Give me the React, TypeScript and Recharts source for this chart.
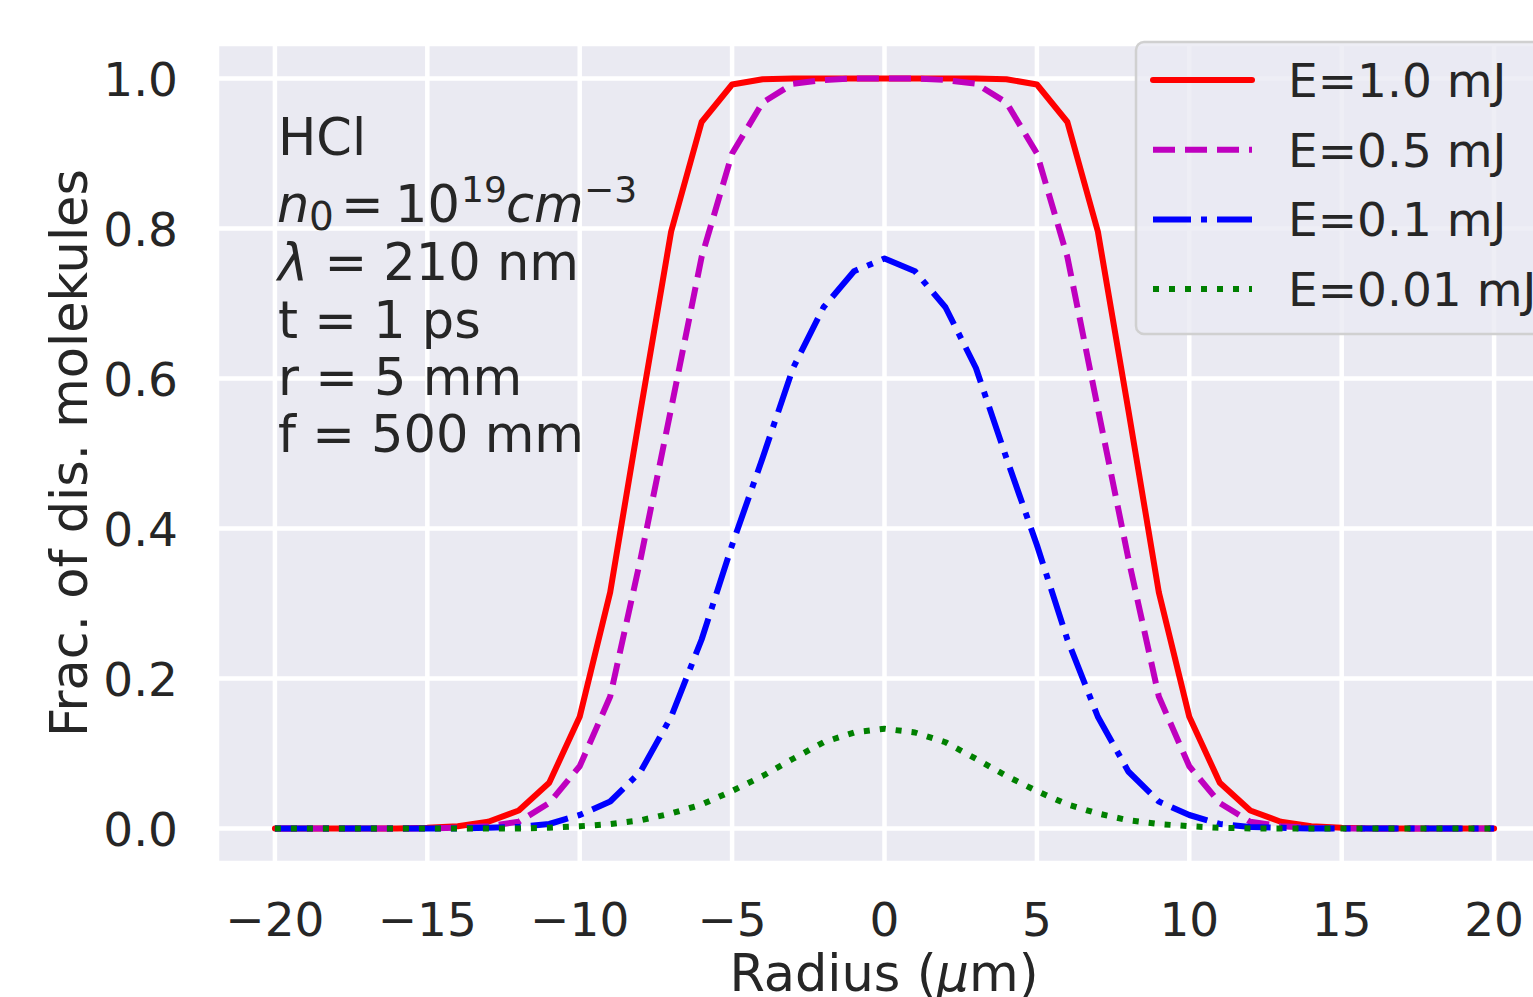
import { CartesianGrid, Line, LineChart, XAxis, YAxis } from "recharts";

// Radius in micrometres, one point per integer step
const RADIUS = [
  -20, -19, -18, -17, -16, -15, -14, -13, -12, -11, -10, -9, -8, -7, -6, -5, -4, -3, -2, -1, 0,
  1, 2, 3, 4, 5, 6, 7, 8, 9, 10, 11, 12, 13, 14, 15, 16, 17, 18, 19, 20,
];

const E_1_0 = [
  0, 0, 0, 0, 0, 0.001, 0.003, 0.009, 0.024, 0.061, 0.149, 0.315, 0.558, 0.796, 0.942, 0.992,
  0.999, 1.0, 1.0, 1.0, 1.0, 1.0, 1.0, 1.0, 0.999, 0.992, 0.942, 0.796, 0.558, 0.315, 0.149,
  0.061, 0.024, 0.009, 0.003, 0.001, 0, 0, 0, 0, 0,
];

const E_0_5 = [
  0, 0, 0, 0, 0, 0, 0.001, 0.003, 0.009, 0.034, 0.083, 0.176, 0.36, 0.56, 0.762, 0.9, 0.968,
  0.993, 0.998, 1.0, 1.0, 1.0, 0.998, 0.993, 0.968, 0.9, 0.762, 0.56, 0.36, 0.176, 0.083, 0.034,
  0.009, 0.003, 0.001, 0, 0, 0, 0, 0, 0,
];

const E_0_1 = [
  0, 0, 0, 0, 0, 0, 0, 0.001, 0.002, 0.006, 0.018, 0.036, 0.076, 0.149, 0.252, 0.378, 0.494,
  0.614, 0.695, 0.743, 0.76, 0.743, 0.695, 0.614, 0.494, 0.378, 0.252, 0.149, 0.076, 0.036, 0.018,
  0.006, 0.002, 0.001, 0, 0, 0, 0, 0, 0, 0,
];

const E_0_01 = [
  0, 0, 0, 0, 0, 0, 0, 0, 0, 0.001, 0.003, 0.006, 0.011, 0.02, 0.032, 0.05, 0.07, 0.093, 0.115,
  0.128, 0.133, 0.128, 0.115, 0.093, 0.07, 0.05, 0.032, 0.02, 0.011, 0.006, 0.003, 0.001, 0, 0, 0,
  0, 0, 0, 0, 0, 0,
];

const X_TICKS = [-20, -15, -10, -5, 0, 5, 10, 15, 20];
const Y_TICKS = [0, 0.2, 0.4, 0.6, 0.8, 1.0];

const SERIES = [
  { key: "e10", label: "E=1.0 mJ", color: "#ff0000", dash: undefined as string | undefined },
  { key: "e05", label: "E=0.5 mJ", color: "#bf00bf", dash: "22 10" },
  { key: "e01", label: "E=0.1 mJ", color: "#0000ff", dash: "38 10 6 10" },
  { key: "e001", label: "E=0.01 mJ", color: "#008000", dash: "6 10" },
];

const rows = RADIUS.map((r, i) => ({
  r,
  e10: E_1_0[i],
  e05: E_0_5[i],
  e01: E_0_1[i],
  e001: E_0_01[i],
}));

const FONT = "'DejaVu Sans', sans-serif";
const INK = "#262626";

const fmtX = (v: number) => (v < 0 ? `\u2212${Math.abs(v)}` : `${v}`);

function XTick({ x, y, payload }: any) {
  return (
    <text x={x} y={y + 73} textAnchor="middle" fontFamily={FONT} fontSize={47} fill={INK}>
      {fmtX(payload.value)}
    </text>
  );
}

function YTick({ x, y, payload }: any) {
  return (
    <text x={x - 39} y={y + 17} textAnchor="end" fontFamily={FONT} fontSize={47} fill={INK}>
      {Number(payload.value).toFixed(1)}
    </text>
  );
}

function Overlay() {
  const legendRows = [80, 149.7, 219.4, 289];
  return (
    <svg
      width={1533}
      height={997}
      style={{ position: "absolute", left: 0, top: 0, pointerEvents: "none" }}
      fontFamily={FONT}
      fill={INK}
    >
      {/* annotation block */}
      <text x={278} y={155} fontSize={51}>HCl</text>
      <text x={277} y={222} fontSize={51} fontStyle="italic">n</text>
      <text x={309} y={230} fontSize={39}>0</text>
      <text x={341} y={222} fontSize={51}>=</text>
      <text x={395} y={222} fontSize={51}>10</text>
      <text x={461} y={202} fontSize={36}>19</text>
      <text x={506} y={222} fontSize={51} fontStyle="italic">cm</text>
      <text x={584} y={202} fontSize={36}>{"\u22123"}</text>
      <text x={278} y={280} fontSize={51}>
        <tspan fontStyle="italic">λ</tspan> = 210 nm
      </text>
      <text x={278} y={338} fontSize={51}>t = 1 ps</text>
      <text x={278} y={395} fontSize={51}>r = 5 mm</text>
      <text x={278} y={452} fontSize={51}>f = 500 mm</text>

      {/* axis titles */}
      <text x={884} y={991} fontSize={51} textAnchor="middle">
        Radius (<tspan fontStyle="italic">μ</tspan>m)
      </text>
      <text
        x={0}
        y={0}
        fontSize={51}
        textAnchor="middle"
        transform="translate(87 453) rotate(-90)"
      >
        Frac. of dis. molekules
      </text>

      {/* legend */}
      <rect
        x={1136}
        y={42}
        width={450}
        height={292}
        rx={8}
        fill="rgba(234,234,242,0.8)"
        stroke="#d0d0d0"
        strokeWidth={2.5}
      />
      {SERIES.map((s, i) => (
        <g key={s.key}>
          <line
            x1={1153}
            x2={1252}
            y1={legendRows[i]}
            y2={legendRows[i]}
            stroke={s.color}
            strokeWidth={6}
            strokeDasharray={s.dash}
            strokeLinecap={s.dash ? "butt" : "round"}
          />
          <text x={1288} y={legendRows[i] + 17} fontSize={47}>
            {s.label}
          </text>
        </g>
      ))}
    </svg>
  );
}

export default function App() {
  return (
    <div
      style={{
        position: "absolute",
        left: 0,
        top: 0,
        width: 1533,
        height: 997,
        overflow: "hidden",
        background: "#ffffff",
      }}
    >
      <LineChart
        width={1600}
        height={997}
        data={rows}
        margin={{ top: 44, right: 48, left: 0, bottom: 0 }}
      >
        <CartesianGrid fill="#eaeaf2" stroke="#ffffff" strokeWidth={4.5} />
        <XAxis
          dataKey="r"
          type="number"
          domain={[-21.9, 21.9]}
          ticks={X_TICKS}
          allowDataOverflow
          axisLine={false}
          tickLine={false}
          tickSize={0}
          tickMargin={0}
          height={134}
          tick={<XTick />}
        />
        <YAxis
          type="number"
          domain={[-0.046, 1.046]}
          ticks={Y_TICKS}
          allowDataOverflow
          axisLine={false}
          tickLine={false}
          tickSize={0}
          tickMargin={0}
          width={217}
          tick={<YTick />}
        />
        {SERIES.map((s) => (
          <Line
            key={s.key}
            type="linear"
            dataKey={s.key}
            stroke={s.color}
            strokeWidth={6}
            strokeDasharray={s.dash}
            strokeLinecap={s.dash ? "butt" : "round"}
            strokeLinejoin="round"
            dot={false}
            activeDot={false}
            isAnimationActive={false}
          />
        ))}
      </LineChart>
      <Overlay />
    </div>
  );
}
